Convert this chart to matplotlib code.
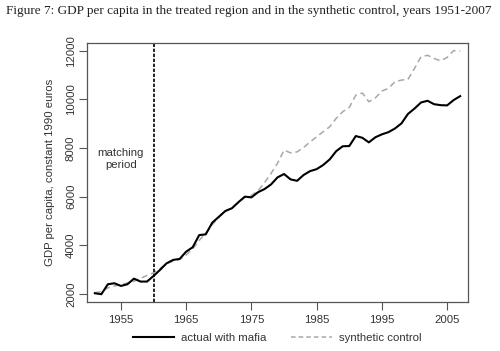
import matplotlib
matplotlib.use("Agg")
import matplotlib.pyplot as plt
from matplotlib.lines import Line2D

years = list(range(1951, 2008))
actual = [2030, 1990, 2400, 2440, 2330, 2400, 2630, 2510, 2510, 2740,
          2990, 3260, 3400, 3440, 3740, 3920, 4420, 4450, 4930, 5170,
          5410, 5520, 5770, 6000, 5970, 6180, 6310, 6500, 6790, 6930,
          6710, 6650, 6890, 7050, 7130, 7300, 7530, 7870, 8070, 8080,
          8490, 8420, 8230, 8440, 8560, 8650, 8800, 9010, 9400, 9620,
          9870, 9940, 9800, 9760, 9750, 9970, 10130]
synthetic = [2050, 2100, 2250, 2330, 2380, 2450, 2520, 2640, 2760, 2870,
             3050, 3250, 3350, 3420, 3600, 3850, 4200, 4500, 4850, 5150,
             5400, 5550, 5750, 5980, 6050, 6240, 6570, 6950, 7370, 7910,
             7800, 7840, 8020, 8250, 8460, 8670, 8870, 9220, 9490, 9670,
             10170, 10260, 9900, 10060, 10340, 10450, 10720, 10790, 10820, 11270,
             11750, 11810, 11680, 11580, 11720, 12000, 11990]
treatment_year = 1960
xticks = [1955, 1965, 1975, 1985, 1995, 2005]
yticks = [2000, 4000, 6000, 8000, 10000, 12000]
title = "Figure 7: GDP per capita in the treated region and in the synthetic control, years 1951-2007"
ylabel = "GDP per capita, constant 1990 euros"
legend_labels = ["actual with mafia", "synthetic control"]

plt.rcParams['font.family'] = ['Liberation Sans', 'DejaVu Sans']
txt = '#333333'
edge = '#555555'

fig = plt.figure(figsize=(5.0, 3.51), dpi=100)
ax = fig.add_axes([0.174, 0.1396, 0.762, 0.738])

ax.plot(years, synthetic, color='#a8a8a8', lw=1.1, dashes=(4, 2.5))
ax.plot(years, actual, color='black', lw=1.5)
ax.axvline(treatment_year, color='black', lw=1.2, dashes=(2, 1))
ax.text(1955, 7550, "matching\nperiod", ha='center', va='center',
        fontsize=8.2, color=txt, linespacing=1.15)

ax.set_xlim(1949.8, 2008.2)
ax.set_ylim(1670, 12316)
ax.set_xticks(xticks)
ax.set_yticks(yticks)
ax.set_yticklabels([str(v) for v in yticks], rotation=90, va='center')
ax.tick_params(axis='both', direction='out', length=6, width=0.8,
               colors=edge, labelcolor=txt, labelsize=8.2)
ax.tick_params(axis='x', pad=3)
ax.tick_params(axis='y', pad=2)
for s in ax.spines.values():
    s.set_color(edge)
    s.set_linewidth(0.9)
ax.set_ylabel(ylabel, fontsize=8.2, color=txt, labelpad=8)

fig.text(0.012, 0.97, title, family=['Liberation Serif', 'DejaVu Serif'],
         fontsize=9.5, color='#222222', ha='left', va='center')

handles = [Line2D([], [], color='black', lw=1.5),
           Line2D([], [], color='#a8a8a8', lw=1.1, dashes=(3, 2))]
fig.legend(handles, legend_labels, loc='center', bbox_to_anchor=(0.555, 0.037),
           ncol=2, frameon=False, fontsize=8.2, handlelength=3.6,
           columnspacing=2.2, handletextpad=0.6, labelcolor=txt)

fig.savefig("out.png", dpi=100)
